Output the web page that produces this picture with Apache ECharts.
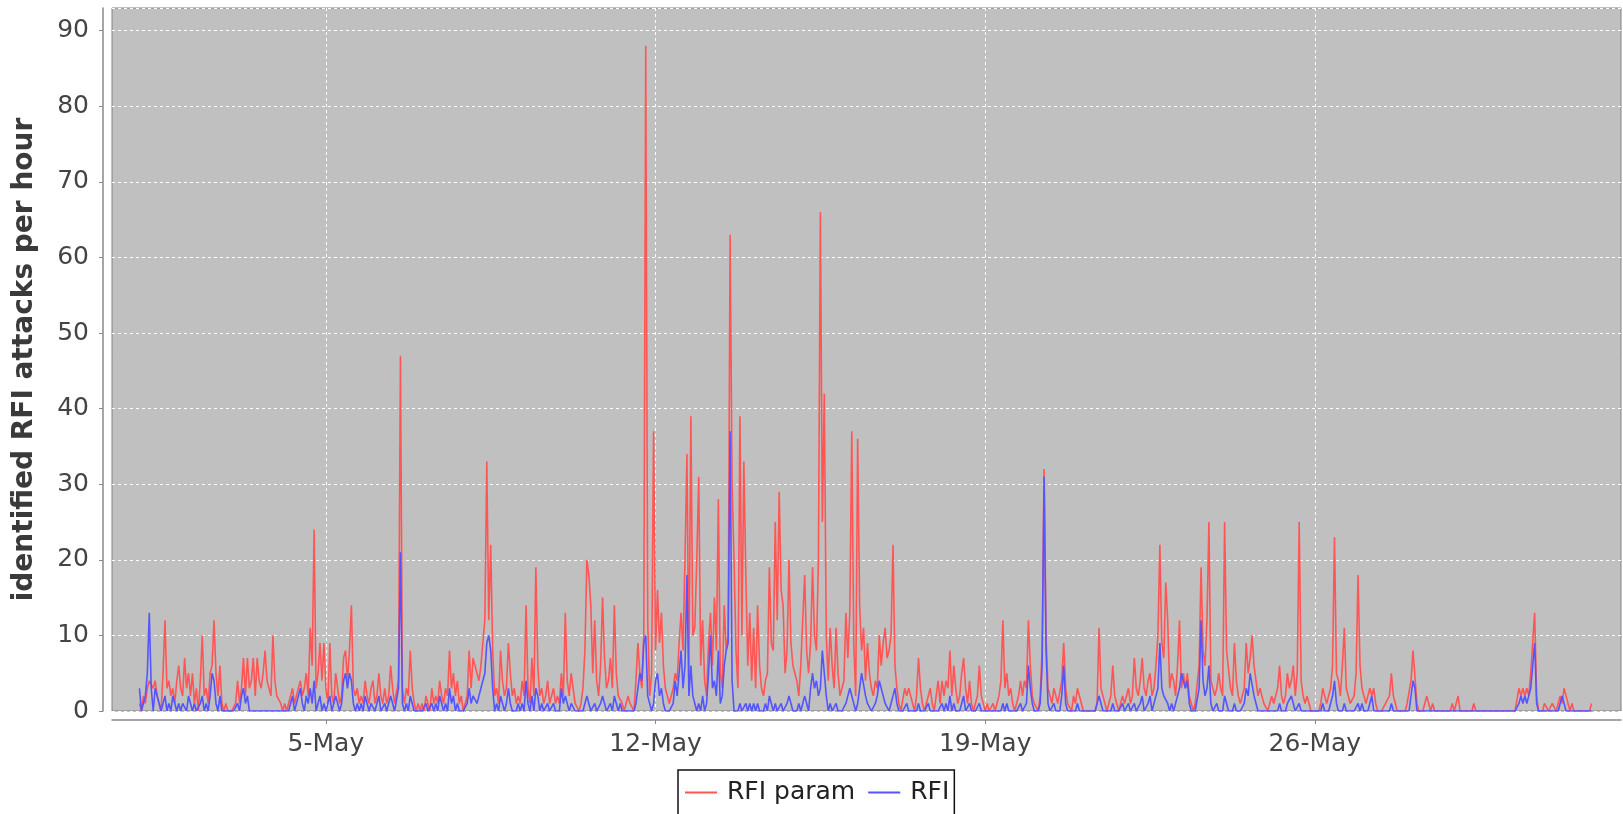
<!DOCTYPE html>
<html>
<head>
<meta charset="utf-8">
<title>RFI attacks per hour</title>
<script src="https://cdn.jsdelivr.net/npm/echarts@6/dist/echarts.min.js"></script>
<style>
  html, body { margin: 0; padding: 0; background: #fff; }
  #chart { width: 1623px; height: 814px; }
</style>
</head>
<body>
<div id="chart"></div>
<script>
// hours counted from 1 May 00:00, one value per hour
const firstHour = 1
const seriesNames = ['RFI param', 'RFI']
const tickHours = [96, 264, 432, 600]
const tickLabels = ['5-May', '12-May', '19-May', '26-May']

// RFI param, one line per day (1 May .. 31 May)
const paramValues = [
  1,0,2,1,3,4,4,3,4,2,1,0,5,12,3,4,2,3,1,4,6,3,2,
  7,3,5,2,5,1,3,0,4,10,2,3,1,5,6,12,5,2,6,1,0,1,0,0,
  0,0,1,4,1,3,7,2,7,3,4,7,2,7,4,3,5,8,4,3,2,10,4,2,
  2,1,0,1,0,1,2,3,1,2,3,4,2,3,5,2,11,6,24,3,5,9,4,9,
  3,1,9,2,1,5,3,1,2,7,8,4,8,14,3,2,3,1,2,1,4,2,1,3,
  4,1,2,5,2,1,3,1,2,6,3,1,1,4,47,3,1,3,2,8,3,1,0,1,
  0,1,0,2,1,0,3,1,2,1,4,2,1,3,2,8,3,5,2,4,1,2,0,1,
  2,8,3,7,6,5,4,6,9,12,33,12,22,8,2,3,1,8,4,2,3,9,5,2,
  3,1,2,1,4,2,14,3,1,7,2,19,6,2,3,1,2,4,1,2,3,1,2,1,
  5,2,13,4,2,5,3,1,1,0,1,3,8,20,18,14,5,12,4,2,6,15,7,3,
  4,7,3,14,5,2,2,1,0,1,2,1,1,0,4,9,5,3,10,88,12,2,5,37,
  8,16,9,13,6,3,2,1,2,3,5,4,9,13,8,20,34,5,39,10,11,20,31,6,
  12,4,2,9,13,6,15,8,28,5,3,14,8,10,63,30,20,8,3,39,10,33,18,6,
  13,4,11,3,14,6,3,2,4,5,19,9,8,25,12,29,16,14,5,8,20,9,6,5,
  4,2,6,12,18,8,5,9,19,10,8,20,66,25,42,10,4,11,6,3,11,5,2,3,
  4,13,7,13,37,9,2,36,14,8,11,4,9,5,3,2,4,3,10,6,9,11,7,8,
  10,22,6,3,1,0,0,3,2,3,2,1,0,2,7,3,1,0,1,2,3,1,0,2,
  4,1,4,2,4,3,8,2,6,3,1,2,5,7,3,1,4,1,0,1,2,6,2,1,
  0,1,0,0,1,0,1,2,4,12,3,5,2,3,1,0,1,2,4,2,4,3,12,6,
  2,1,1,0,2,8,32,10,3,2,1,3,2,1,1,4,9,3,1,1,0,2,1,3,
  2,1,0,0,0,0,0,0,0,1,11,3,2,1,0,1,2,6,2,1,0,1,2,1,
  1,3,1,2,7,3,2,4,7,3,2,4,5,2,3,6,10,22,9,7,17,12,3,5,
  4,2,6,12,3,5,3,5,2,1,0,1,1,6,19,8,6,12,25,4,3,2,3,5,
  3,2,25,8,8,3,2,9,4,2,1,2,3,9,5,7,10,6,4,2,3,2,1,1,
  0,1,2,1,1,3,6,2,1,2,5,3,4,6,2,5,25,4,2,1,2,1,0,0,
  0,0,0,1,3,2,1,2,3,6,23,5,4,2,6,11,3,2,1,1,2,5,18,6,
  3,2,1,2,3,2,3,1,0,0,0,0,1,1,2,5,2,1,0,0,0,0,0,1,
  1,4,8,8,1,0,0,0,1,2,1,0,1,0,0,0,0,0,0,0,0,0,1,0,
  1,2,0,0,0,0,0,0,0,1,0,0,0,0,0,0,0,0,0,0,0,0,0,0,
  0,0,0,0,0,0,0,0,3,2,3,2,3,2,5,9,13,2,0,0,0,1,1,0,
  0,1,1,0,1,2,1,3,2,1,0,1,0,0,0,0,0,0,0,0,0,1
]

// RFI, same hours
const rfiValues = [
  3,0,0,2,5,13,3,0,3,3,1,0,1,2,0,1,0,2,1,0,1,0,1,
  1,0,2,1,0,1,0,0,1,2,0,1,0,2,5,4,1,0,2,0,0,0,0,0,
  0,0,0,1,0,2,3,1,2,0,0,0,0,0,0,0,0,0,0,0,0,0,0,0,
  0,0,0,0,0,0,1,2,0,1,2,3,1,0,2,1,3,1,4,0,1,2,0,1,
  0,1,2,0,0,2,1,0,1,4,5,3,5,4,1,0,1,0,1,0,2,1,0,1,
  1,0,1,2,0,0,1,0,0,2,1,0,0,3,21,1,0,1,0,2,1,0,0,0,
  0,0,0,1,0,0,1,0,1,0,2,1,0,1,0,3,1,2,0,1,0,0,0,0,
  1,3,1,2,2,1,2,3,4,5,9,10,8,3,0,1,0,2,1,0,1,3,1,0,
  0,0,1,0,1,0,4,1,0,2,0,3,2,0,1,0,0,1,0,0,1,0,0,0,
  3,1,2,1,0,1,1,0,0,0,0,0,1,2,1,0,0,1,0,0,1,2,1,0,
  0,1,0,2,1,0,1,0,0,0,0,0,0,0,1,3,5,4,9,10,2,1,0,1,
  4,5,2,3,1,0,0,0,0,1,4,2,5,8,3,6,18,2,6,2,1,0,1,0,
  2,0,1,5,10,3,4,2,8,1,2,6,8,9,37,4,0,0,0,1,0,0,1,0,
  1,0,1,0,1,0,0,0,1,0,2,1,0,1,0,0,1,0,0,1,2,1,0,0,
  0,1,0,1,2,1,0,3,5,3,4,2,3,8,5,2,0,1,0,0,1,0,0,0,
  0,1,2,3,3,1,0,1,3,5,5,2,1,1,0,0,1,2,4,3,2,1,1,0,
  1,2,3,1,0,0,0,0,1,0,0,0,0,0,1,0,0,0,0,1,0,0,0,0,
  0,0,1,0,1,0,2,0,1,0,0,0,1,2,0,0,1,0,0,0,0,1,0,0,
  0,0,0,0,0,0,0,0,0,1,0,1,0,0,0,0,0,0,1,0,0,1,6,3,
  1,0,0,0,1,6,31,8,1,0,0,1,0,0,0,2,6,1,0,0,0,0,0,1,
  0,0,0,0,0,0,0,0,0,0,2,1,0,0,0,0,0,1,0,0,0,0,1,0,
  0,1,0,0,1,0,0,1,2,0,0,1,2,0,1,2,3,9,3,2,2,1,0,1,
  0,1,2,3,5,4,3,4,1,0,0,0,0,3,12,4,2,3,6,1,0,0,1,0,
  0,0,2,1,0,0,0,1,0,0,0,0,1,3,2,5,5,2,1,0,0,0,0,0,
  0,0,0,0,0,0,1,0,0,0,1,1,2,1,0,0,1,0,0,0,0,0,0,0,
  0,0,0,0,1,0,0,0,1,2,4,1,0,0,0,1,0,0,0,0,0,0,1,0,
  1,0,0,0,1,2,0,0,0,0,0,0,0,0,0,1,0,0,0,0,0,0,0,0,
  0,2,4,3,0,0,0,0,0,0,0,0,0,0,0,0,0,0,0,0,0,0,0,0,
  0,0,0,0,0,0,0,0,0,0,0,0,0,0,0,0,0,0,0,0,0,0,0,0,
  0,0,0,0,0,0,0,0,1,2,1,2,1,1,3,6,9,1,0,0,0,0,0,0,
  0,0,0,0,0,1,2,1,0,0,0,0,0,0,0,0,0,0,0,0,0,0
]

const font = 'DejaVu Sans'
const toPoints = (values) => values.map((v, i) => [firstHour + i, v])

const chart = echarts.init(document.getElementById('chart'))
const gridLine = { color: '#ffffff', width: 1, type: [3, 3] }

chart.setOption({
  animation: false,
  backgroundColor: '#ffffff',
  grid: {
    left: 112, right: 2, top: 8, bottom: 103,
    show: true,
    backgroundColor: '#c0c0c0',
    borderColor: '#808080',
    borderWidth: 1
  },
  legend: {
    data: seriesNames,
    left: 678, top: 770,
    padding: [10, 5, 10, 7],
    itemGap: 13,
    itemWidth: 32, itemHeight: 2,
    icon: 'rect',
    borderColor: '#111',
    borderWidth: 1.5,
    textStyle: { fontFamily: font, fontSize: 25, color: '#222', padding: [0, 0, 0, 5] }
  },
  xAxis: {
    type: 'value',
    min: -13, max: 756,
    offset: 9,
    axisLine: { show: true, onZero: false, lineStyle: { color: '#888', width: 1.5 } },
    axisTick: { show: true, length: 4, customValues: tickHours, lineStyle: { color: '#888' } },
    axisLabel: {
      customValues: tickHours,
      margin: 12,
      fontFamily: font, fontSize: 25, color: '#444',
      formatter: (v) => tickLabels[tickHours.indexOf(v)] || ''
    },
    splitLine: { show: true, lineStyle: gridLine }
  },
  yAxis: {
    type: 'value',
    min: 0, max: 93, interval: 10,
    offset: 9,
    name: 'identified RFI attacks per hour',
    nameLocation: 'middle',
    nameGap: 64,
    nameTextStyle: { fontFamily: font, fontSize: 28, fontWeight: 'bold', color: '#3a3a3a' },
    axisLine: { show: true, onZero: false, lineStyle: { color: '#888', width: 1.5 } },
    axisTick: { show: true, length: 4, lineStyle: { color: '#888' } },
    axisLabel: { margin: 14, fontFamily: font, fontSize: 25, color: '#444' },
    splitLine: { show: true, lineStyle: gridLine }
  },
  series: [
    {
      name: seriesNames[0],
      type: 'line',
      data: toPoints(paramValues),
      showSymbol: false,
      symbol: 'none',
      itemStyle: { color: '#ff5555' },
      lineStyle: { color: '#ff5555', width: 1.6 }
    },
    {
      name: seriesNames[1],
      type: 'line',
      data: toPoints(rfiValues),
      showSymbol: false,
      symbol: 'none',
      itemStyle: { color: '#5555ff' },
      lineStyle: { color: '#5555ff', width: 1.6 }
    }
  ]
})
</script>
</body>
</html>
